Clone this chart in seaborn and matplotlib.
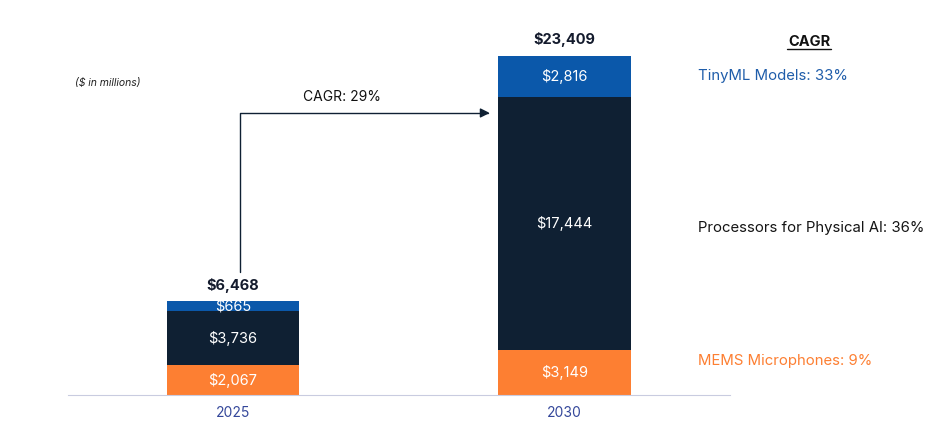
import seaborn as sns
import matplotlib.pyplot as plt
import pandas as pd

years = ["2025", "2030"]
mems = [2067, 3149]
processors = [3736, 17444]
tinyml = [665, 2816]
totals = [6468, 23409]
segments = ["MEMS Microphones", "Processors for Physical AI", "TinyML Models"]
segment_cagr = ["9%", "36%", "33%"]
total_cagr = "29%"

orange = "#FD7F32"
navy = "#0F2033"
blue = "#0B58AA"

sns.set_style("white")
plt.rcParams["font.family"] = ["Inter", "DejaVu Sans"]

df = pd.DataFrame({"Year": years, "MEMS": mems, "Proc": processors, "Tiny": tinyml})
df["lvl1"] = df["MEMS"]
df["lvl2"] = df["MEMS"] + df["Proc"]
df["lvl3"] = df["lvl2"] + df["Tiny"]

fig = plt.figure(figsize=(9.44, 4.42), dpi=100)
ax = fig.add_axes([0.072, 0.106, 0.701, 0.849])

# stacked bars drawn from the top level down
for col, c in [("lvl3", blue), ("lvl2", navy), ("lvl1", orange)]:
    sns.barplot(data=df, x="Year", y=col, color=c, width=0.4, saturation=1,
                linewidth=0, ax=ax)

ax.set_xlim(-0.497, 1.497)
ax.set_ylim(0, 25900)
ax.set_xlabel("")
ax.set_ylabel("")
ax.set_yticks([])
for s in ["top", "right", "left"]:
    ax.spines[s].set_visible(False)
ax.spines["bottom"].set_color("#C9CCE0")
ax.tick_params(axis="x", length=0, pad=8, labelsize=10, labelcolor="#34479A")

for i in range(len(years)):
    lo = 0
    for val in [mems[i], processors[i], tinyml[i]]:
        ax.text(i, lo + val / 2, f"${val:,}", ha="center", va="center",
                color="white", fontsize=10.5)
        lo += val
    ax.text(i, totals[i] + 600, f"${totals[i]:,}", ha="center", va="bottom",
            color="#141B2D", fontsize=10.5, fontweight="bold")

# CAGR arrow
ax.annotate("", xy=(0.774, 19475), xytext=(0.021, 8500),
            arrowprops=dict(arrowstyle="-|>", color="#0F2033", lw=1,
                            connectionstyle="angle,angleA=90,angleB=0,rad=0",
                            shrinkA=0, shrinkB=0, mutation_scale=14))
ax.text(0.33, 20580, f"CAGR: {total_cagr}", ha="center", va="center",
        color="#111111", fontsize=10)

fig.text(0.079, 0.812, "($ in millions)", fontsize=7.5, style="italic",
         color="#222222", va="center")

# right-hand CAGR legend
fig.text(0.857, 0.905, "CAGR", fontsize=10.5, fontweight="bold", ha="center",
         va="center", color="#111111")
fig.add_artist(plt.Line2D([0.834, 0.880], [0.889, 0.889], color="#111111", lw=1))
label_y = [0.183, 0.485, 0.828]
label_c = [orange, "#151515", "#1F5DAA"]
for name, rate, yy, cc in zip(segments, segment_cagr, label_y, label_c):
    fig.text(0.739, yy, f"{name}: {rate}", fontsize=10.75, color=cc, va="center")

fig.savefig("out.png", dpi=100)
